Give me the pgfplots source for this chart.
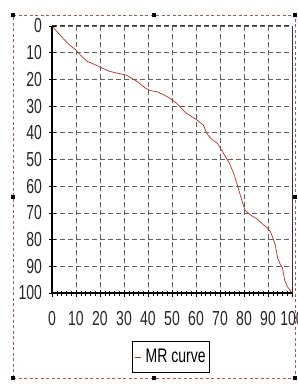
\documentclass[border=0pt]{standalone}
\usepackage{pgfplots}
\pgfplotsset{compat=1.18}
\usepackage{fontspec}
\setmainfont{Liberation Sans}
\definecolor{curve}{HTML}{B03030}
\definecolor{frame}{HTML}{B05050}
\definecolor{gridc}{HTML}{606060}
\begin{document}
\begin{tikzpicture}
\useasboundingbox (0pt,0pt) rectangle (297pt,390pt);
\fill[white] (0pt,0pt) rectangle (297pt,390pt);
% outer dashed frame
\draw[frame, dash pattern=on 3pt off 2.5pt, line width=0.9pt] (13pt,12pt) rectangle (295pt,375pt);
\foreach \px/\py in {13/375,154/375,295/375,13/193,154/12,13/12,295/12,295/193}
  \fill[black] (\px pt-1.8pt,\py pt-1.8pt) rectangle (\px pt+1.8pt,\py pt+1.8pt);
\begin{axis}[
  at={(52pt,97pt)}, anchor=south west,
  scale only axis, width=240pt, height=267pt,
  xmin=0, xmax=100, ymin=0, ymax=100,
  y dir=reverse,
  xtick={0,10,...,100}, ytick={0,10,...,100},
  xtick pos=left, ytick pos=left,
  minor x tick num=4,
  tick align=center,
  major tick length=7pt, minor tick length=5pt,
  tick style={black, line width=0.6pt},
  grid=major,
  major grid style={gridc, dash pattern=on 5pt off 3pt, line width=0.6pt},
  axis line style={draw=none},
  ticklabel style={font=\fontsize{14}{14}\selectfont, yscale=1.45, text=black!85},
  /pgf/number format/assume math mode=true,
  xticklabel style={yshift=-7pt},
  yticklabel style={xshift=-3pt},
  legend style={at={(0.496,-0.24)}, anchor=center, draw=black, line width=0.8pt,
    font=\fontsize{14}{14}\selectfont, inner xsep=2pt, inner ysep=5pt,
    nodes={yscale=1.4, inner sep=2pt}},
  legend image code/.code={\draw[curve, line width=0.8pt] (0pt,0pt) -- (6pt,0pt);},
  legend cell align=left,
  clip=false,
]
\addplot[curve, line width=0.7pt] table {
x y
0 0
2 2
4 4
6 6
8 7.6
9.6 8.7
12 11
14.5 13.2
18 14.5
21 15.8
24 17
28 17.8
31 18.4
35 20.5
39 23.3
41 24.2
43.6 24.6
46 25.5
49 27
52 29
56 32.7
60 35
63 37
64.5 40.2
66 42
69 44
71 47
74 51.5
76 56
77.5 60.4
79 65
80.4 69
83 71
85.4 72.2
87.5 74
89.6 75.5
91 77
92 79.3
93 82
94 86.8
95 89
96 90.5
96.5 93
97 95.4
98 97.5
100 100
};
\addlegendentry{\,MR curve}
\draw[black, line width=2pt] (axis description cs:0,0) -- (axis description cs:0,1);
\draw[black, line width=2pt] (axis description cs:0,0) -- (axis description cs:1,0);
\draw[black!80, line width=0.8pt] (axis description cs:1,0) -- (axis description cs:1,1);
\draw[black!80, line width=1pt, dash pattern=on 5pt off 3pt] (axis description cs:0,1) -- (axis description cs:1,1);
\end{axis}
\end{tikzpicture}
\end{document}
